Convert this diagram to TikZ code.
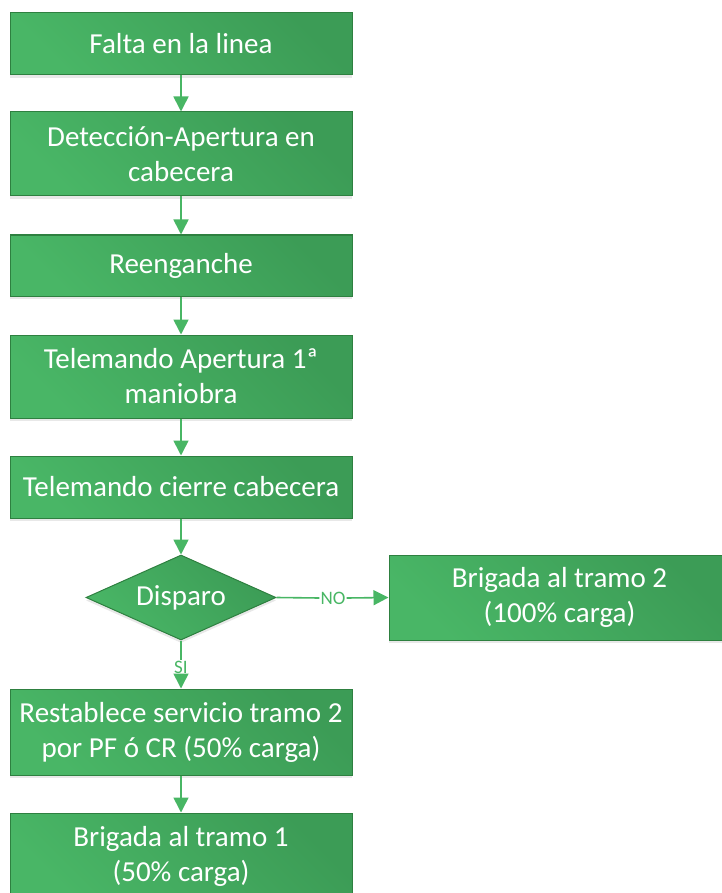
\documentclass[tikz,border=0pt]{standalone}
\usepackage{fontspec}
\setmainfont{Carlito}
\usetikzlibrary{arrows.meta,shapes.geometric,shadows}
\definecolor{boxfillA}{RGB}{73,182,102}
\definecolor{boxfillB}{RGB}{60,156,86}
\definecolor{boxline}{RGB}{46,128,64}
\definecolor{arrowc}{RGB}{72,182,100}
\tikzset{
  stepbox/.style={draw=boxline, line width=1pt, left color=boxfillA, right color=boxfillB,
    shading angle=135, text=white, font=\fontsize{29}{35}\selectfont, align=center,
    minimum width=342pt, inner sep=0pt,
    drop shadow={opacity=0.18, shadow xshift=0pt, shadow yshift=-3pt}},
  flowarrow/.style={draw=arrowc, line width=1.6pt, -{Triangle[width=15pt,length=15pt]}},
  flowline/.style={draw=arrowc, line width=1.6pt},
  lbl/.style={text=arrowc, font=\fontsize{19}{22}\selectfont, inner sep=1pt}
}
\begin{document}
\begin{tikzpicture}[x=1pt,y=-1pt]
\useasboundingbox (0,0) rectangle (721,893);
\node[stepbox, minimum height=62pt] (b1) at (181,44) {Falta en la linea};
\node[stepbox, minimum height=84pt] (b2) at (181,154) {Detección-Apertura en\\cabecera};
\node[stepbox, minimum height=61pt] (b3) at (181,265.5) {Reenganche};
\node[stepbox, minimum height=83pt] (b4) at (181,376.5) {Telemando Apertura 1ª\\maniobra};
\node[stepbox, minimum height=62pt] (b5) at (181,487) {Telemando cierre cabecera};
\node[stepbox, diamond, minimum width=190pt, minimum height=85pt, inner sep=0pt] (d) at (181,597.5) {};
\node[text=white, font=\fontsize{29}{35}\selectfont] (dt) at (181,597.5) {Disparo};
\node[stepbox, minimum width=341pt, minimum height=85pt] (r) at (559.5,597.5) {Brigada al tramo 2\\(100\% carga)};
\node[stepbox, minimum height=86pt] (b7) at (181,732) {Restablece servicio tramo 2\\por PF ó CR (50\% carga)};
\node[stepbox, minimum height=86pt] (b8) at (181,856) {Brigada al tramo 1\\(50\% carga)};
\draw[flowarrow] (b1) -- (b2);
\draw[flowarrow] (b2) -- (b3);
\draw[flowarrow] (b3) -- (b4);
\draw[flowarrow] (b4) -- (b5);
\draw[flowarrow] (b5) -- (d);
\node[lbl] (no) at (333,598) {NO};
\draw[flowline] (d.east) -- (no.west);
\draw[flowarrow] (no.east) -- (r.west);
\node[lbl] (si) at (181,667) {SI};
\draw[flowline] (d.south) -- (si.north);
\draw[flowarrow] (si.south) -- (b7.north);
\draw[flowarrow] (b7) -- (b8);
\end{tikzpicture}
\end{document}
